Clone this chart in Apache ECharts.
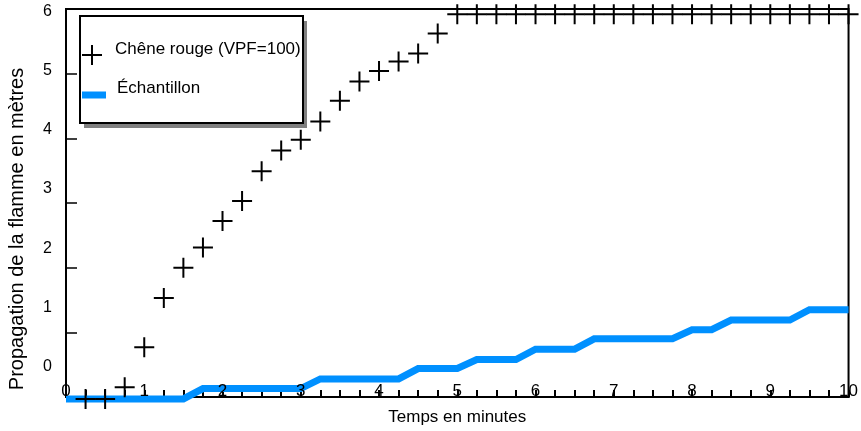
<!DOCTYPE html>
<html>
<head>
<meta charset="utf-8">
<script src="https://cdn.jsdelivr.net/npm/echarts@6/dist/echarts.min.js"></script>
<style>html,body{margin:0;padding:0;background:#fff;}#c{width:861px;height:431px;}</style>
</head>
<body>
<div id="c"></div>
<script>
// ---- data ----
var seriesNames = ['Chêne rouge (VPF=100)', 'Échantillon'];
var oakTimes  = [0.25, 0.5, 0.75, 1.0, 1.25, 1.5, 1.75, 2.0, 2.25, 2.5, 2.75, 3.0, 3.25, 3.5, 3.75, 4.0, 4.25, 4.5, 4.75,
                 5.0, 5.25, 5.5, 5.75, 6.0, 6.25, 6.5, 6.75, 7.0, 7.25, 7.5, 7.75, 8.0, 8.25, 8.5, 8.75, 9.0, 9.25, 9.5, 9.75, 10.0];
var oakValues = [-0.03, -0.03, 0.15, 0.77, 1.53, 2.0, 2.31, 2.72, 3.03, 3.49, 3.81, 3.98, 4.26, 4.58, 4.88, 5.04, 5.19, 5.31, 5.62,
                 5.92, 5.92, 5.92, 5.92, 5.92, 5.92, 5.92, 5.92, 5.92, 5.92, 5.92, 5.92, 5.92, 5.92, 5.92, 5.92, 5.92, 5.92, 5.92, 5.92, 5.92];
var sampleTimes  = [0, 1.5, 1.75, 3.0, 3.25, 4.25, 4.5, 5.0, 5.25, 5.75, 6.0, 6.5, 6.75, 7.75, 8.0, 8.25, 8.5, 9.25, 9.5, 10.0];
var sampleValues = [-0.03, -0.03, 0.13, 0.13, 0.28, 0.28, 0.44, 0.44, 0.58, 0.58, 0.74, 0.74, 0.90, 0.90, 1.04, 1.04, 1.19, 1.19, 1.35, 1.35];
var xTickLabels = [0, 1, 2, 3, 4, 5, 6, 7, 8, 9, 10];
var yTickLabels = [0, 1, 2, 3, 4, 5, 6];
var xTitle = 'Temps en minutes';
var yTitle = 'Propagation de la flamme en mètres';

function zip(a, b) { return a.map(function (v, i) { return [v, b[i]]; }); }

var FONT = '"Liberation Sans", Arial, sans-serif';
var crossPath = 'path://M9,0h2v9h9v2h-9v9h-2v-9h-9v-2h9z';
// legend icons: same shapes, with a degenerate point above so that the icon sits lower than its text
var crossLegendIcon = 'path://M10,-12L10,-12M9,0h2v9h9v2h-9v9h-2v-9h-9v-2h9z';
var barLegendIcon = 'path://M12,-12.5L12,-12.5M0,0h24v7h-24z';

function legendFor(name, icon, top) {
  return {
    orient: 'vertical', left: 82, top: top, padding: 0,
    itemWidth: 24, itemHeight: 32, z: 20, symbolKeepAspect: true,
    textStyle: {fontSize: 17, color: '#000', fontFamily: FONT, padding: [0, 0, 0, 6]},
    data: [{name: name, icon: icon}]
  };
}

var chart = echarts.init(document.getElementById('c'), null, {renderer: 'canvas'});
chart.setOption({
  animation: false,
  backgroundColor: '#fff',
  textStyle: {fontFamily: FONT},
  grid: {left: 66, right: 8, top: 9, bottom: 31, show: true, borderColor: '#000', borderWidth: 2, backgroundColor: 'transparent'},
  legend: [legendFor(seriesNames[0], crossLegendIcon, 33), legendFor(seriesNames[1], barLegendIcon, 79)],
  graphic: [
    {type: 'rect', z: 15, shape: {x: 84, y: 21, width: 223, height: 107}, style: {fill: '#808080'}},
    {type: 'rect', z: 16, shape: {x: 80, y: 16, width: 223, height: 107}, style: {fill: '#fff', stroke: '#000', lineWidth: 2}},
    {type: 'text', z: 16, x: 17.5, y: 229, rotation: Math.PI / 2,
     style: {text: yTitle, fontSize: 20, fontFamily: FONT, fill: '#000', align: 'center', verticalAlign: 'middle'}}
  ],
  xAxis: [
    {type: 'value', min: 0, max: 10, interval: 0.25, position: 'bottom',
     name: xTitle, nameLocation: 'middle', nameGap: 12,
     nameTextStyle: {fontSize: 17, color: '#000', fontFamily: FONT, verticalAlign: 'top'},
     axisLine: {show: true, lineStyle: {color: '#000', width: 2}},
     axisTick: {show: true, inside: true, length: 7, lineStyle: {color: '#000', width: 2}},
     axisLabel: {show: false}, splitLine: {show: false}},
    {type: 'value', min: 0, max: 10, position: 'bottom', z: 10,
     axisLine: {show: false}, axisTick: {show: false}, splitLine: {show: false},
     axisLabel: {show: true, inside: true, margin: -3, customValues: xTickLabels,
       fontSize: 17, color: '#000', fontFamily: FONT}}
  ],
  yAxis: [
    {type: 'value', min: 0, max: 6, interval: 1, position: 'left',
     axisLine: {show: true, lineStyle: {color: '#000', width: 2}},
     axisTick: {show: true, inside: true, length: 11, lineStyle: {color: '#000', width: 1.5}},
     axisLabel: {show: false}, splitLine: {show: false}},
    {type: 'value', min: -0.51, max: 6.04, position: 'left', offset: 0,
     axisLine: {show: false}, axisTick: {show: false}, splitLine: {show: false},
     axisLabel: {show: true, margin: 14, customValues: yTickLabels,
       fontSize: 16, color: '#000', fontFamily: FONT}}
  ],
  series: [
    {name: seriesNames[1], type: 'line', xAxisIndex: 0, yAxisIndex: 0, z: 2, clip: false,
     data: zip(sampleTimes, sampleValues), showSymbol: false, symbol: 'none',
     lineStyle: {color: '#0090ff', width: 7, cap: 'butt', join: 'miter'}, itemStyle: {color: '#0090ff'}},
    {name: seriesNames[0], type: 'scatter', xAxisIndex: 0, yAxisIndex: 0, z: 3, clip: false,
     data: zip(oakTimes, oakValues), symbol: crossPath, symbolSize: 20,
     itemStyle: {color: '#000', opacity: 1}}
  ]
});
</script>
</body>
</html>
